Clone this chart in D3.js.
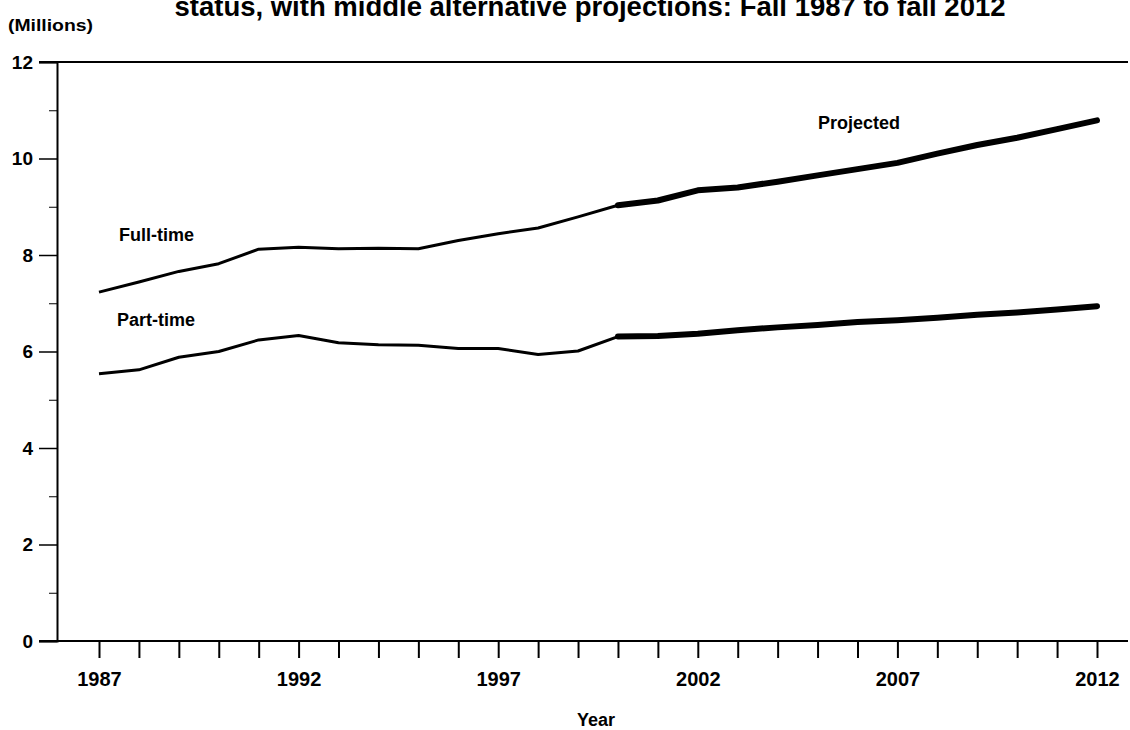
<!DOCTYPE html>
<html>
<head>
<meta charset="utf-8">
<script src="https://cdn.jsdelivr.net/npm/d3@7"></script>
<style>
  html, body { margin: 0; padding: 0; background: #fff; }
  svg { display: block; font-family: "Liberation Sans", Arial, Helvetica, sans-serif; }
  .axis text { font-weight: bold; fill: #000; }
  .axis line, .axis path { stroke: #000; }
</style>
</head>
<body>
<svg class="chart" width="1130" height="730"></svg>
<script>
// years on the x axis
const years = [1987, 1988, 1989, 1990, 1991, 1992, 1993, 1994, 1995, 1996, 1997, 1998, 1999,
               2000, 2001, 2002, 2003, 2004, 2005, 2006, 2007, 2008, 2009, 2010, 2011, 2012];

// enrollment in millions
const fullTime = [7.23, 7.44, 7.66, 7.82, 8.12, 8.16, 8.13, 8.14, 8.13, 8.30, 8.44, 8.56, 8.79,
                  9.03, 9.13, 9.34, 9.40, 9.52, 9.65, 9.78, 9.91, 10.10, 10.28, 10.43, 10.61, 10.79];
const partTime = [5.54, 5.62, 5.88, 6.00, 6.24, 6.33, 6.18, 6.14, 6.13, 6.06, 6.06, 5.94, 6.01,
                  6.31, 6.32, 6.37, 6.44, 6.50, 6.55, 6.61, 6.65, 6.70, 6.76, 6.81, 6.87, 6.94];

const projectedFrom = 2000;

const yTicks = [0, 2, 4, 6, 8, 10, 12];
const yMinorTicks = [1, 3, 5, 7, 9, 11];
const xLabelYears = [1987, 1992, 1997, 2002, 2007, 2012];

const titleText = 'status, with middle alternative projections: Fall 1987 to fall 2012';

const svg = d3.select('.chart');

const width = +svg.attr('width');
const height = +svg.attr('height');

const xScale = d3.scaleLinear()
    .domain([years[0], years[years.length - 1]])
    .range([99, 1097]);

const yScale = d3.scaleLinear()
    .domain([0, 12])
    .range([641, 62]);

const axisX = 57;      // where the vertical axis sits
const lineLeft = 39;   // left end of the top and bottom rules
const lineRight = 1128;

// title (cut at the top edge, as in the scan)
svg.append('text')
    .attr('x', 590)
    .attr('y', 16)
    .attr('text-anchor', 'middle')
    .attr('textLength', 831)
    .attr('lengthAdjust', 'spacingAndGlyphs')
    .style('font-size', '27px')
    .style('font-weight', 'bold')
    .text(titleText);

svg.append('text')
    .attr('x', 8)
    .attr('y', 31)
    .attr('textLength', 85)
    .attr('lengthAdjust', 'spacingAndGlyphs')
    .style('font-size', '16px')
    .style('font-weight', 'bold')
    .text('(Millions)');

// y axis, major ticks with labels
svg.append('g')
    .attr('class', 'axis')
    .attr('transform', `translate(${axisX},0)`)
    .call(d3.axisLeft(yScale)
        .tickValues(yTicks)
        .tickSize(axisX - lineLeft)
        .tickPadding(6)
        .tickFormat(d3.format('d')))
    .call(g => g.selectAll('text').style('font-size', '19px'))
    .call(g => g.selectAll('line').attr('stroke-width', 1.5))
    .call(g => g.select('.domain').attr('stroke-width', 2));

// y axis, minor ticks
svg.append('g')
    .attr('class', 'axis')
    .attr('transform', `translate(${axisX},0)`)
    .call(d3.axisLeft(yScale)
        .tickValues(yMinorTicks)
        .tickSize(8)
        .tickFormat(''))
    .call(g => g.select('.domain').remove());

// top and bottom rules
svg.append('g')
    .selectAll('line')
    .data([0, 12])
    .join('line')
    .attr('x1', lineLeft)
    .attr('x2', lineRight)
    .attr('y1', d => yScale(d))
    .attr('y2', d => yScale(d))
    .attr('stroke', '#000')
    .attr('stroke-width', 2);

// x axis, tick every year, label every 5th
svg.append('g')
    .attr('class', 'axis')
    .attr('transform', `translate(0,${yScale(0)})`)
    .call(d3.axisBottom(xScale)
        .tickValues(years)
        .tickSize(17)
        .tickPadding(14)
        .tickFormat(d => xLabelYears.includes(d) ? d : ''))
    .call(g => g.select('.domain').remove())
    .call(g => g.selectAll('line').attr('stroke-width', 2))
    .call(g => g.selectAll('text').style('font-size', '20px'));

svg.append('text')
    .attr('x', 596)
    .attr('y', 726)
    .attr('text-anchor', 'middle')
    .style('font-size', '18px')
    .style('font-weight', 'bold')
    .text('Year');

// lines
const series = [fullTime, partTime].map(values => years.map((year, i) => ({ year, value: values[i] })));

const line = d3.line()
    .x(d => xScale(d.year))
    .y(d => yScale(d.value));

const lines = svg.append('g')
    .attr('fill', 'none')
    .attr('stroke', '#000')
    .attr('stroke-linejoin', 'round');

lines.selectAll('.actual')
    .data(series)
    .join('path')
    .attr('class', 'actual')
    .attr('stroke-width', 3)
    .attr('d', d => line(d.filter(p => p.year <= projectedFrom)));

lines.selectAll('.projected')
    .data(series)
    .join('path')
    .attr('class', 'projected')
    .attr('stroke-width', 6)
    .attr('stroke-linecap', 'round')
    .attr('d', d => line(d.filter(p => p.year >= projectedFrom)));

// series labels
const labels = [
    { text: 'Full-time', x: 119, y: 241 },
    { text: 'Part-time', x: 117, y: 326 },
    { text: 'Projected', x: 818, y: 129 }
];

svg.append('g')
    .selectAll('text')
    .data(labels)
    .join('text')
    .attr('x', d => d.x)
    .attr('y', d => d.y)
    .style('font-size', '18px')
    .style('font-weight', 'bold')
    .text(d => d.text);
</script>
</body>
</html>
